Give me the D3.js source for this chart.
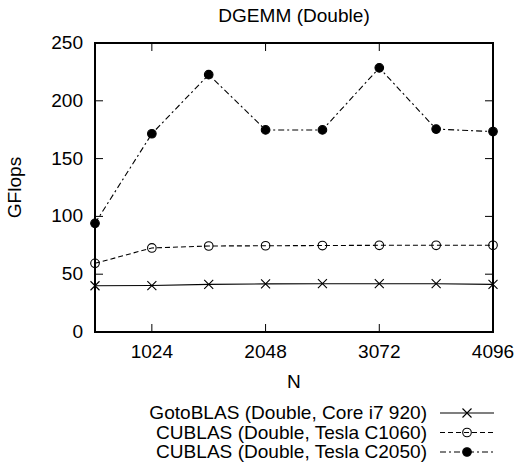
<!DOCTYPE html>
<html>
<head>
<meta charset="utf-8">
<script src="https://cdn.jsdelivr.net/npm/d3@7"></script>
<style>
  body { margin: 0; background: #fff; }
  svg { display: block; }
  text { font-family: "Liberation Sans", Arial, sans-serif; fill: #000; }
</style>
</head>
<body>
<svg width="517" height="464"></svg>
<script>
const W = 517, H = 464;
const LEFT = 95, RIGHT = 493, TOP = 43, BOTTOM = 332;
const FONT = 17.5, SX = 1.09;
const TICK = 8;

// Данные
const sizes = [512, 1024, 1536, 2048, 2560, 3072, 3584, 4096];
const gotoVals = [40, 40.2, 41.2, 41.6, 41.8, 41.8, 41.8, 41.2];
const c1060Vals = [59.4, 72.7, 74.4, 74.6, 74.8, 75, 75, 75];
const c2050Vals = [94, 171.5, 222.6, 174.8, 174.8, 228.5, 175.5, 173.4];
const xTicks = [1024, 2048, 3072, 4096];
const yTicks = [0, 50, 100, 150, 200, 250];

const series = [
    {name: 'GotoBLAS (Double, Core i7 920)', values: gotoVals, dash: null, marker: 'cross'},
    {name: 'CUBLAS (Double, Tesla C1060)', values: c1060Vals, dash: '5,3', marker: 'open'},
    {name: 'CUBLAS (Double, Tesla C2050)', values: c2050Vals, dash: '6,3,2,3', marker: 'filled'}
];

const svg = d3.select('svg');
const x = d3.scaleLinear().domain([512, 4096]).range([LEFT, RIGHT]);
const y = d3.scaleLinear().domain([0, 250]).range([BOTTOM, TOP]);

// Текст, слегка растянутый по горизонтали
function label(px, py, str, anchor, rot) {
    return svg.append('text')
        .attr('transform', `translate(${px},${py})` + (rot ? ` rotate(${rot})` : '') + ` scale(${SX},1)`)
        .attr('text-anchor', anchor || 'middle')
        .attr('font-size', FONT)
        .text(str);
}

label((LEFT + RIGHT) / 2, 22, 'DGEMM (Double)');

// Подписи отметок
xTicks.forEach(t => label(x(t), 358, d3.format('d')(t)));
yTicks.forEach(t => label(83, y(t) + 6, t, 'end'));

// Отметки внутрь с обеих сторон
xTicks.forEach(t => {
    svg.append('line').attr('x1', x(t)).attr('x2', x(t)).attr('y1', BOTTOM).attr('y2', BOTTOM - TICK).attr('stroke', '#000');
    svg.append('line').attr('x1', x(t)).attr('x2', x(t)).attr('y1', TOP).attr('y2', TOP + TICK).attr('stroke', '#000');
});
yTicks.forEach(t => {
    svg.append('line').attr('x1', LEFT).attr('x2', LEFT + TICK).attr('y1', y(t)).attr('y2', y(t)).attr('stroke', '#000');
    svg.append('line').attr('x1', RIGHT).attr('x2', RIGHT - TICK).attr('y1', y(t)).attr('y2', y(t)).attr('stroke', '#000');
});

// Подписи осей
label((LEFT + RIGHT) / 2, 388, 'N');
label(21, (TOP + BOTTOM) / 2, 'GFlops', 'middle', -90);

function drawMarker(g, kind, cx, cy) {
    if (kind === 'cross') {
        g.append('path')
            .attr('d', `M${cx - 4.5},${cy - 4.5}L${cx + 4.5},${cy + 4.5}M${cx - 4.5},${cy + 4.5}L${cx + 4.5},${cy - 4.5}`)
            .attr('stroke', '#000').attr('stroke-width', 1.1).attr('fill', 'none');
    } else {
        g.append('circle')
            .attr('cx', cx).attr('cy', cy).attr('r', 4.3)
            .attr('stroke', '#000').attr('stroke-width', 1.1)
            .attr('fill', kind === 'filled' ? '#000' : 'none');
    }
}

const line = d3.line().x((d, i) => x(sizes[i])).y(d => y(d));

series.forEach(s => {
    svg.append('path')
        .attr('d', line(s.values))
        .attr('fill', 'none').attr('stroke', '#000').attr('stroke-width', 1.1)
        .attr('stroke-dasharray', s.dash);
    const g = svg.append('g');
    s.values.forEach((v, i) => drawMarker(g, s.marker, x(sizes[i]), y(v)));
});

// Рамка
svg.append('rect')
    .attr('x', LEFT).attr('y', TOP)
    .attr('width', RIGHT - LEFT).attr('height', BOTTOM - TOP)
    .attr('fill', 'none').attr('stroke', '#000').attr('stroke-width', 2);

// Легенда
series.forEach((s, i) => {
    const ly = 413 + i * 19.5;
    label(427, ly + 6, s.name, 'end');
    svg.append('line')
        .attr('x1', 440).attr('x2', 494).attr('y1', ly).attr('y2', ly)
        .attr('stroke', '#000').attr('stroke-width', 1.1)
        .attr('stroke-dasharray', s.dash);
    drawMarker(svg, s.marker, 467, ly);
});
</script>
</body>
</html>
